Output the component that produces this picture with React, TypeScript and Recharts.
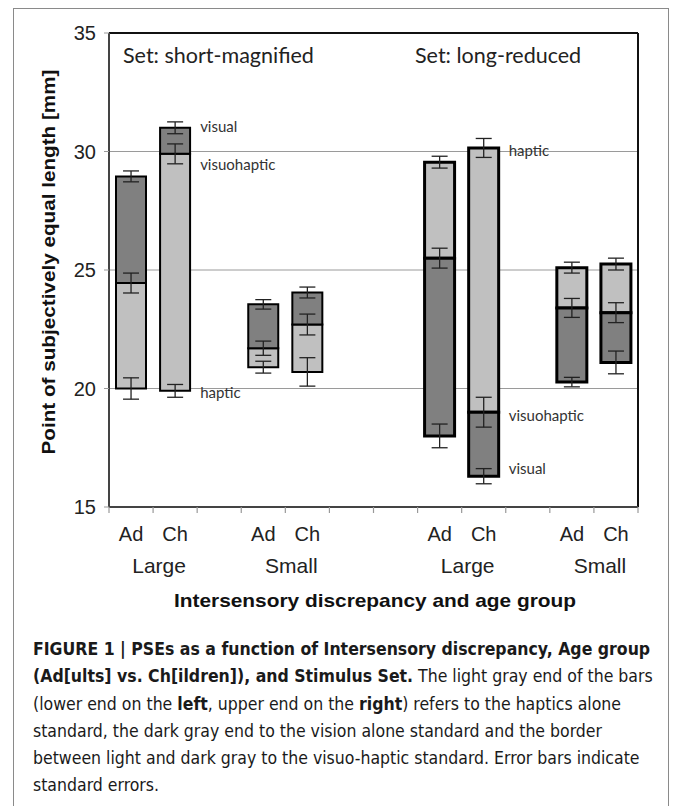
import React from "react";
import {
  ComposedChart,
  Bar,
  Line,
  XAxis,
  YAxis,
  CartesianGrid,
  ErrorBar,
  ReferenceLine,
  LabelList,
  Cell,
} from "recharts";

// ---- data ----
const slots = ["Ad", "Ch", "", "Ad", "Ch", "", "", "Ad", "Ch", "", "Ad", "Ch"];
const discrepancy = ["Large", "Large", null, "Small", "Small", null, null, "Large", "Large", null, "Small", "Small"];
const stimulusSet = ["short", "short", null, "short", "short", null, null, "long", "long", null, "long", "long"];
const haptic = [20.0, 19.9, null, 20.9, 20.7, null, null, 29.55, 30.15, null, 25.1, 25.25];
const visuohaptic = [24.45, 29.9, null, 21.7, 22.7, null, null, 25.5, 19.0, null, 23.4, 23.2];
const visual = [28.95, 31.0, null, 23.55, 24.05, null, null, 18.0, 16.3, null, 20.27, 21.1];
const hapticErr = [0.45, 0.27, null, 0.25, 0.6, null, null, 0.25, 0.4, null, 0.23, 0.25];
const visuohapticErr = [0.42, 0.42, null, 0.3, 0.44, null, null, 0.42, 0.63, null, 0.4, 0.42];
const visualErr = [0.23, 0.25, null, 0.2, 0.23, null, null, 0.5, 0.32, null, 0.2, 0.48];
const hapticNote = [null, "haptic", null, null, null, null, null, null, "haptic", null, null, null];
const visuohapticNote = [null, "visuohaptic", null, null, null, null, null, null, "visuohaptic", null, null, null];
const visualNote = [null, "visual", null, null, null, null, null, null, "visual", null, null, null];
const yTicks = [15, 20, 25, 30, 35];
const setTitles = ["Set: short-magnified", "Set: long-reduced"];
const yTitle = "Point of subjectively equal length [mm]";
const xTitle = "Intersensory discrepancy and age group";

// ---- layout / styles ----
const W = 673;
const H = 625;
const M = { top: 33, right: 35, bottom: 18, left: 0 };
const Y_AXIS_W = 109;
const BAND = (W - M.right - M.left - Y_AXIS_W) / slots.length;
const LIGHT = "#c0c0c0";
const DARK = "#808080";
const ARIAL = "'Liberation Sans', Arial, sans-serif";
const CALIBRI = "Lato, 'Open Sans', sans-serif";
const NOTE_DY: Record<string, number> = {
  "1:visual": -2,
  "1:visuohaptic": 10,
  "1:haptic": 1,
  "8:haptic": 2,
  "8:visuohaptic": 3,
  "8:visual": -8,
};

const rows = slots.map((slot, i) => {
  const h = haptic[i];
  const v = visuohaptic[i];
  const vis = visual[i];
  const has = h != null && v != null && vis != null;
  return {
    slot,
    haptic: h,
    visuohaptic: v,
    visual: vis,
    hapticErr: hapticErr[i],
    visuohapticErr: visuohapticErr[i],
    visualErr: visualErr[i],
    hapticNote: hapticNote[i],
    visuohapticNote: visuohapticNote[i],
    visualNote: visualNote[i],
    light: has ? [Math.min(h as number, v as number), Math.max(h as number, v as number)] : null,
    dark: has ? [Math.min(v as number, vis as number), Math.max(v as number, vis as number)] : null,
  };
});

const makeNote = (kind: string) => (props: any) => {
  const { x, y, value, index } = props;
  if (!value) return null;
  const dy = NOTE_DY[`${index}:${kind}`] ?? 0;
  return (
    <text x={x + 25} y={y + dy} dominantBaseline="central" fontFamily={CALIBRI} fontSize={15} fill="#333">
      {value}
    </text>
  );
};

const SlotTick = (props: any) => {
  const { x, y, payload } = props;
  const i = payload.index;
  const group = discrepancy[i];
  const groupStart = group != null && (i === 0 || discrepancy[i - 1] !== group);
  const last = i === slots.length - 1;
  return (
    <g>
      <line x1={x - BAND / 2} x2={x - BAND / 2} y1={y} y2={y + 6} stroke="#999" strokeWidth={1.2} />
      {last && <line x1={x + BAND / 2} x2={x + BAND / 2} y1={y} y2={y + 6} stroke="#999" strokeWidth={1.2} />}
      <text x={x} y={y + 34} textAnchor="middle" fontFamily={ARIAL} fontSize={20} fill="#222">
        {payload.value}
      </text>
      {groupStart && (
        <text x={x + BAND / 2 + 6} y={y + 66} textAnchor="middle" fontFamily={ARIAL} fontSize={21} fill="#222">
          {group}
        </text>
      )}
    </g>
  );
};

export default function App() {
  return (
    <div style={{ position: "absolute", left: 0, top: 0, width: 673, height: 806, background: "#fff", overflow: "hidden" }}>
      <div
        style={{
          position: "absolute",
          left: 13,
          top: 8,
          width: 654,
          height: 820,
          borderTop: "1.5px solid #8a8a8a",
          borderLeft: "1.5px solid #8a8a8a",
          borderRight: "1.5px solid #8a8a8a",
        }}
      />
      <div style={{ position: "absolute", left: 0, top: 0 }}>
        <ComposedChart width={W} height={H} data={rows} margin={M}>
          <CartesianGrid vertical={false} stroke="#9a9a9a" strokeWidth={1} />
          <CartesianGrid
            horizontal={false}
            stroke="#111"
            strokeWidth={2}
            verticalCoordinatesGenerator={({ offset }: any) => [offset.left + offset.width]}
          />
          <YAxis
            type="number"
            domain={[15, 35]}
            ticks={yTicks}
            width={Y_AXIS_W}
            tickSize={5}
            tickMargin={8}
            axisLine={{ stroke: "#444", strokeWidth: 2 }}
            tickLine={{ stroke: "#999" }}
            tick={{ fontFamily: ARIAL, fontSize: 20, fill: "#222" }}
          />
          <XAxis
            xAxisId="cat"
            dataKey="slot"
            height={100}
            tickSize={0}
            tickMargin={0}
            axisLine={{ stroke: "#444", strokeWidth: 2 }}
            tickLine={false}
            interval={0}
            tick={<SlotTick />}
          />
          <XAxis xAxisId="cat2" dataKey="slot" hide />
          <ReferenceLine xAxisId="cat" y={35} stroke="#111" strokeWidth={2} />
          <Bar xAxisId="cat" dataKey="light" barSize={30} fill={LIGHT} stroke="#000" isAnimationActive={false}>
            {rows.map((_, i) => (
              <Cell key={i} fill={LIGHT} stroke="#000" strokeWidth={stimulusSet[i] === "long" ? 3 : 2} />
            ))}
          </Bar>
          <Bar xAxisId="cat2" dataKey="dark" barSize={30} fill={DARK} stroke="#000" isAnimationActive={false}>
            {rows.map((_, i) => (
              <Cell key={i} fill={DARK} stroke="#000" strokeWidth={stimulusSet[i] === "long" ? 3 : 2} />
            ))}
          </Bar>
          <Line xAxisId="cat" dataKey="haptic" stroke="transparent" dot={false} activeDot={false} isAnimationActive={false}>
            <ErrorBar dataKey="hapticErr" width={8} stroke="#222" strokeWidth={1.3} direction="y" />
            <LabelList dataKey="hapticNote" content={makeNote("haptic")} />
          </Line>
          <Line xAxisId="cat" dataKey="visuohaptic" stroke="transparent" dot={false} activeDot={false} isAnimationActive={false}>
            <ErrorBar dataKey="visuohapticErr" width={8} stroke="#222" strokeWidth={1.3} direction="y" />
            <LabelList dataKey="visuohapticNote" content={makeNote("visuohaptic")} />
          </Line>
          <Line xAxisId="cat" dataKey="visual" stroke="transparent" dot={false} activeDot={false} isAnimationActive={false}>
            <ErrorBar dataKey="visualErr" width={8} stroke="#222" strokeWidth={1.3} direction="y" />
            <LabelList dataKey="visualNote" content={makeNote("visual")} />
          </Line>
        </ComposedChart>
      </div>
      <svg width={673} height={640} style={{ position: "absolute", left: 0, top: 0, pointerEvents: "none" }}>
        <text x={123} y={63} fontFamily={CALIBRI} fontSize={21.5} fill="#222">
          {setTitles[0]}
        </text>
        <text x={415} y={63} fontFamily={CALIBRI} fontSize={21.5} fill="#222">
          {setTitles[1]}
        </text>
        <text
          transform="translate(49,262) rotate(-90)"
          textAnchor="middle"
          dominantBaseline="central"
          fontFamily={ARIAL}
          fontWeight="bold"
          fontSize={18}
          fill="#111"
          textLength={385}
          lengthAdjust="spacingAndGlyphs"
        >
          {yTitle}
        </text>
        <text
          x={375}
          y={607}
          textAnchor="middle"
          fontFamily={ARIAL}
          fontWeight="bold"
          fontSize={19}
          fill="#111"
          textLength={402}
          lengthAdjust="spacingAndGlyphs"
        >
          {xTitle}
        </text>
      </svg>
      <div
        style={{
          position: "absolute",
          left: 33,
          top: 636,
          width: 636,
          fontFamily: "'Liberation Sans Narrow', 'DejaVu Sans Condensed', sans-serif",
          fontSize: 17.5,
          lineHeight: "27.3px",
          color: "#1a1a1a",
          whiteSpace: "nowrap",
        }}
      >
        <b>FIGURE 1 | PSEs as a function of Intersensory discrepancy, Age group</b>
        <br />
        <b>(Ad[ults] vs. Ch[ildren]), and Stimulus Set.</b> The light gray end of the bars
        <br />
        (lower end on the <b>left</b>, upper end on the <b>right</b>) refers to the haptics alone
        <br />
        standard, the dark gray end to the vision alone standard and the border
        <br />
        between light and dark gray to the visuo-haptic standard. Error bars indicate
        <br />
        standard errors.
      </div>
    </div>
  );
}
